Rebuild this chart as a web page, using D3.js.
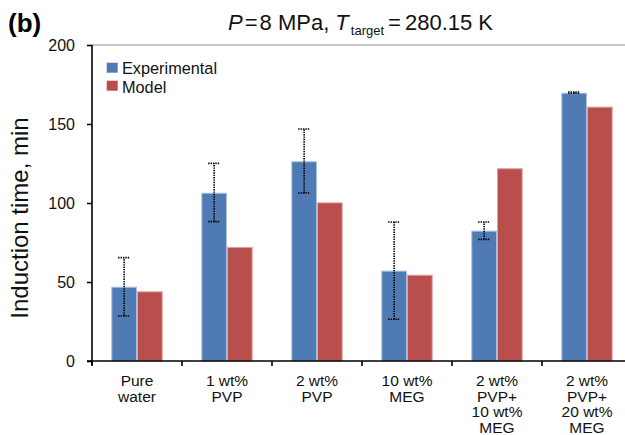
<!DOCTYPE html>
<html>
<head>
<meta charset="utf-8">
<script src="https://cdn.jsdelivr.net/npm/d3@7"></script>
<style>
  body { margin: 0; background: #fff; }
  svg { display: block; font-family: "Liberation Sans", Arial, sans-serif; }
</style>
</head>
<body>
<svg width="625" height="435"></svg>
<script>
// data
var categories = [
  ["Pure", "water"],
  ["1 wt%", "PVP"],
  ["2 wt%", "PVP"],
  ["10 wt%", "MEG"],
  ["2 wt%", "PVP+", "10 wt%", "MEG"],
  ["2 wt%", "PVP+", "20 wt%", "MEG"]
];
var experimental = [47, 106.5, 126.4, 57.2, 82.5, 169.8];
var model = [44.1, 72.2, 100.4, 54.6, 122, 161];
var errLow = [28.5, 88.2, 106.3, 26.4, 77, 169.5];
var errHigh = [65.4, 125.1, 146.8, 88, 88, 170.3];
var yTicks = [0, 50, 100, 150, 200];
var seriesNames = ["Experimental", "Model"];
var colors = ["#4f7ab4", "#b94f4c"];
var edges = ["#a9c0e0", "#dca3a1"];

var svg = d3.select("svg"),
    margin = {top: 45, left: 92, bottom: 361},
    plotRight = 632;

var keys = categories.map(function(d, i) { return i; });

var x0 = d3.scaleBand().domain(keys).range([margin.left, plotRight]).padding(0);
var x1 = d3.scaleBand().domain([0, 1])
    .range([x0.bandwidth() / 2 - 25.7, x0.bandwidth() / 2 + 25.7]);
var y = d3.scaleLinear().domain([0, 200]).range([margin.bottom, margin.top]);

// top frame line
svg.append("line")
    .attr("x1", margin.left).attr("x2", plotRight)
    .attr("y1", y(200)).attr("y2", y(200))
    .attr("stroke", "#8c8c8c").attr("stroke-width", 1.2);

// bars
var groups = svg.selectAll(".grp")
  .data(keys)
  .enter().append("g")
    .attr("transform", function(d) { return "translate(" + x0(d) + ",0)"; });

groups.selectAll("rect")
  .data(function(i) { return [experimental[i], model[i]]; })
  .enter().append("rect")
    .attr("x", function(d, j) { return x1(j) + 0.5; })
    .attr("y", function(d) { return y(d) + 0.5; })
    .attr("width", x1.bandwidth() - 1)
    .attr("height", function(d) { return y(0) - y(d) - 0.5; })
    .attr("fill", function(d, j) { return colors[j]; })
    .attr("stroke", function(d, j) { return edges[j]; })
    .attr("stroke-width", 1);

// error bars on experimental
var eb = groups.append("g")
    .attr("stroke", "#000")
    .attr("stroke-width", 1.6)
    .attr("stroke-dasharray", "1.4,1");
var cx = x1(0) + x1.bandwidth() / 2;
eb.append("line")
    .attr("x1", cx).attr("x2", cx)
    .attr("y1", function(i) { return y(errLow[i]); })
    .attr("y2", function(i) { return y(errHigh[i]); });
eb.append("line")
    .attr("x1", cx - 6).attr("x2", cx + 6)
    .attr("y1", function(i) { return y(errHigh[i]); })
    .attr("y2", function(i) { return y(errHigh[i]); });
eb.append("line")
    .attr("x1", cx - 6).attr("x2", cx + 6)
    .attr("y1", function(i) { return y(errLow[i]); })
    .attr("y2", function(i) { return y(errLow[i]); });

// y axis
var yAxis = svg.append("g")
    .attr("transform", "translate(" + margin.left + ",0)")
    .call(d3.axisLeft(y).tickValues(yTicks).tickSize(5).tickSizeOuter(0).tickPadding(12));
yAxis.select(".domain").attr("stroke-width", 1.6).attr("d", "M0," + y(200) + "V" + (y(0) + 4));
yAxis.selectAll(".tick line").attr("stroke-width", 1.6);
yAxis.selectAll("text").attr("font-size", 16).attr("fill", "#111").attr("font-family", "Liberation Sans, Arial, sans-serif");

// x axis
var xAxis = svg.append("g")
    .attr("transform", "translate(0," + y(0) + ")");
xAxis.append("line")
    .attr("x1", margin.left - 5).attr("x2", plotRight)
    .attr("stroke", "#000").attr("stroke-width", 1.6);
xAxis.selectAll(".xt")
  .data(keys.concat([keys.length]))
  .enter().append("line")
    .attr("x1", function(d) { return d < keys.length ? x0(d) : x0.range()[1]; })
    .attr("x2", function(d) { return d < keys.length ? x0(d) : x0.range()[1]; })
    .attr("y1", 0).attr("y2", 5)
    .attr("stroke", "#000").attr("stroke-width", 1.6);

// multi-line category labels, one text per line
xAxis.selectAll(".xl")
  .data(d3.merge(keys.map(function(k) {
    return categories[k].map(function(s, i) { return {k: k, s: s, i: i}; });
  })))
  .enter().append("text")
    .attr("text-anchor", "middle")
    .attr("font-size", 15.5)
    .attr("fill", "#111")
    .attr("x", function(d) { return x0(d.k) + x0.bandwidth() / 2; })
    .attr("y", function(d) { return 25 + d.i * 15.6; })
    .text(function(d) { return d.s; });

// y label
svg.append("text")
    .attr("transform", "translate(28,218) rotate(-90)")
    .attr("text-anchor", "middle")
    .attr("font-size", 24)
    .attr("fill", "#111")
    .text("Induction time, min");

// legend
var legend = svg.append("g");
seriesNames.forEach(function(name, i) {
  legend.append("rect")
      .attr("x", 106.7).attr("y", 62.7 + i * 18)
      .attr("width", 11).attr("height", 10)
      .attr("fill", colors[i]);
  legend.append("text")
      .attr("x", 122).attr("y", 73.5 + i * 19.5)
      .attr("font-size", 16.3)
      .attr("fill", "#111")
      .text(name);
});

// panel letter
svg.append("text")
    .attr("x", 8).attr("y", 31.5)
    .attr("font-size", 26).attr("font-weight", "bold")
    .text("(b)");

// title
var title = svg.append("text")
    .attr("x", 228).attr("y", 30)
    .attr("font-size", 22)
    .attr("fill", "#111");
title.append("tspan").attr("font-style", "italic").text("P");
title.append("tspan").attr("dx", 2).text("=");
title.append("tspan").attr("dx", 2).text("8 MPa, ");
title.append("tspan").attr("font-style", "italic").text("T");
title.append("tspan").attr("dx", 2).attr("dy", 5).attr("font-size", 13).text("target");
title.append("tspan").attr("dx", 4).attr("dy", -5).text("=");
title.append("tspan").attr("dx", 4).text("280.15 K");
</script>
</body>
</html>
